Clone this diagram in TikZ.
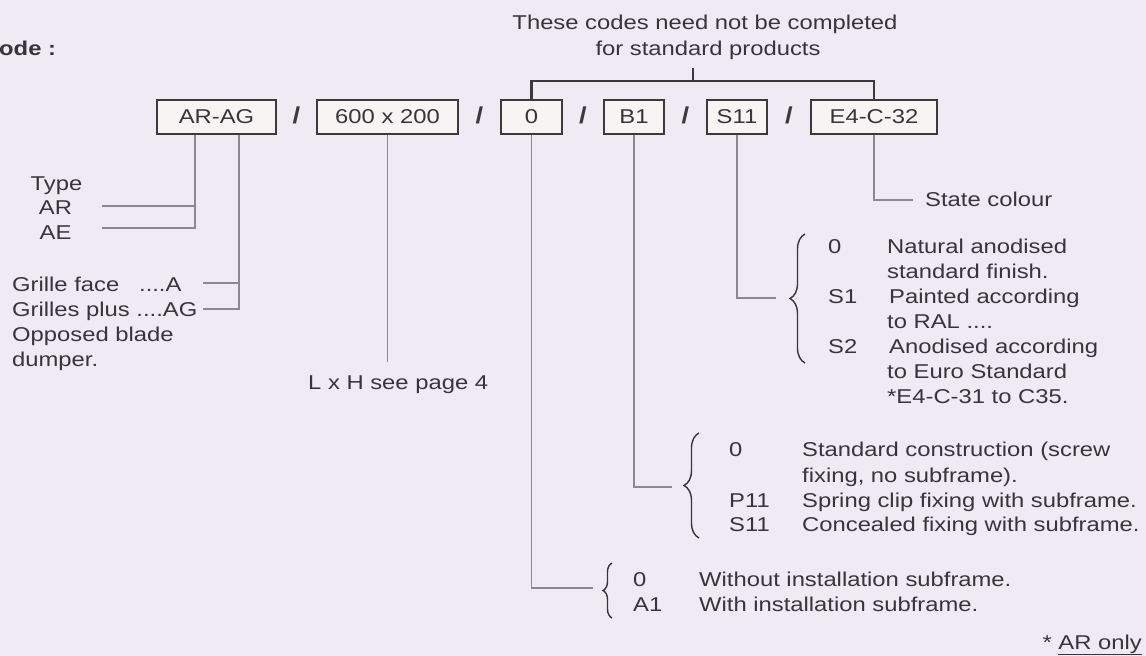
\documentclass[tikz,border=0pt]{standalone}
\usepackage{fontspec}
\setmainfont{Liberation Sans}[FakeStretch=1.19]
\usetikzlibrary{decorations.pathreplacing}
\definecolor{paper}{HTML}{EFEAF3}
\definecolor{ink}{HTML}{37353A}
\definecolor{boxfill}{HTML}{F7F4F3}
\definecolor{wire}{HTML}{8C8890}
\definecolor{frame}{HTML}{3A3A3A}
\begin{document}
\begin{tikzpicture}[x=1pt,y=-1pt,
  font=\fontsize{20}{25}\selectfont,
  every node/.style={text=ink},
  txt/.style={anchor=base west, inner sep=0pt},
  ctxt/.style={anchor=base, inner sep=0pt},
  codebox/.style={draw=frame, line width=1.8pt, fill=boxfill, minimum height=34pt, inner sep=0pt},
  sep/.style={font=\fontsize{23}{25}\selectfont\bfseries, inner sep=0pt, text=frame},
  conn/.style={draw=wire, line width=1.1pt},
  bracket/.style={draw=frame, line width=2.2pt},
  curly/.style={draw=ink, line width=1.4pt, decorate, decoration={brace, amplitude=#1}}
]
\fill[paper] (0,0) rectangle (1146,656);
\useasboundingbox (0,0) rectangle (1146,656);

% heading and note over the optional codes
\node[txt, font=\fontsize{20}{25}\selectfont\bfseries] (codehead) at (-1,55) {ode :};
\node[ctxt] (note1) at (705,29) {These codes need not be completed};
\node[ctxt] (note2) at (708,55) {for standard products};

% the code boxes
\node[codebox, minimum width=119pt] (arag) at (216.5,117) {AR-AG};
\node[codebox, minimum width=141pt] (size) at (387.5,117) {600 x 200};
\node[codebox, minimum width=61pt]  (inst) at (531.5,117) {0};
\node[codebox, minimum width=60pt]  (b1)   at (634,117)   {B1};
\node[codebox, minimum width=60pt]  (s11)  at (737,117)   {S11};
\node[codebox, minimum width=126pt] (e4)   at (874,117)   {E4-C-32};

% separators
\node[sep] (sl1) at (296.5,115) {/};
\node[sep] (sl2) at (479.5,115) {/};
\node[sep] (sl3) at (583,115)   {/};
\node[sep] (sl4) at (685.5,115) {/};
\node[sep] (sl5) at (789,115)   {/};

% bracket grouping the optional codes
\coordinate (brk) at (693,81);
\coordinate (stem) at (693,68);
\draw[bracket] (inst.north) |- (brk) -| (e4.north);
\draw[bracket] (brk) -- (stem);

% type and face descriptions
\node[ctxt] (type)   at (56.5,190) {Type};
\node[ctxt] (typeAR) at (55.5,214) {AR};
\node[ctxt] (typeAE) at (55.5,239) {AE};
\node[txt] (face)  at (12,291) {Grille face~~~....A};
\node[txt] (plus)  at (12,316) {Grilles plus ....AG};
\node[txt] (opp1)  at (12,341) {Opposed blade};
\node[txt] (opp2)  at (12,366) {dumper.};

\coordinate (jAR) at (195,206);
\coordinate (jAE) at (195,228);
\coordinate (eAR) at (102,206);
\coordinate (eAE) at (102,228);
\draw[conn] (arag.south -| jAE) -- (jAE) -- (eAE);
\draw[conn] (jAR) -- (eAR);

\coordinate (jFace) at (239,283);
\coordinate (jPlus) at (239,309);
\coordinate (eFace) at (203,283);
\coordinate (ePlus) at (203,309);
\draw[conn] (arag.south -| jPlus) -- (jPlus) -- (ePlus);
\draw[conn] (jFace) -- (eFace);

% size
\node[txt] (lxh) at (308,389) {L x H see page 4};
\coordinate (eSize) at (387.5,362);
\draw[conn] (size.south) -- (eSize);

% colour
\node[txt] (state) at (925,206) {State colour};
\coordinate (eState) at (913,200);
\draw[conn] (e4.south) |- (eState);

% finish
\coordinate (eFin) at (776,298);
\draw[conn] (s11.south) |- (eFin);
\draw[curly=15] (805,363) -- (805,234);
\node[txt] (fin0)  at (828,253) {0};
\node[txt] (finS1) at (828,303) {S1};
\node[txt] (finS2) at (828,353) {S2};
\node[txt] (finA)  at (887,253) {Natural anodised};
\node[txt] (finB)  at (887,278) {standard finish.};
\node[txt] (finC)  at (889,303) {Painted according};
\node[txt] (finD)  at (887,328) {to RAL ....};
\node[txt] (finE)  at (889,353) {Anodised according};
\node[txt] (finF)  at (887,378) {to Euro Standard};
\node[txt] (finG)  at (887,403) {*E4-C-31 to C35.};

% fixing
\coordinate (eFix) at (672,487);
\draw[conn] (b1.south) |- (eFix);
\draw[curly=15] (699,538) -- (699,433);
\node[txt] (fix0)   at (729,456) {0};
\node[txt] (fixP11) at (729,507) {P11};
\node[txt] (fixS11) at (729,531) {S11};
\node[txt] (fixA) at (802,456) {Standard construction (screw};
\node[txt] (fixB) at (802,482) {fixing, no subframe).};
\node[txt] (fixC) at (802,507) {Spring clip fixing with subframe.};
\node[txt] (fixD) at (802,531) {Concealed fixing with subframe.};

% installation
\coordinate (eIns) at (593,588);
\draw[conn] (inst.south) |- (eIns);
\draw[curly=9] (612,618) -- (612,563);
\node[txt] (ins0)  at (633,586) {0};
\node[txt] (insA1) at (633,611) {A1};
\node[txt] (insA) at (699,586) {Without installation subframe.};
\node[txt] (insB) at (699,611) {With installation subframe.};

% footnote
\node[anchor=base east, inner sep=0pt] (arnote) at (1142,649) {* \underline{AR only}};
\end{tikzpicture}
\end{document}
